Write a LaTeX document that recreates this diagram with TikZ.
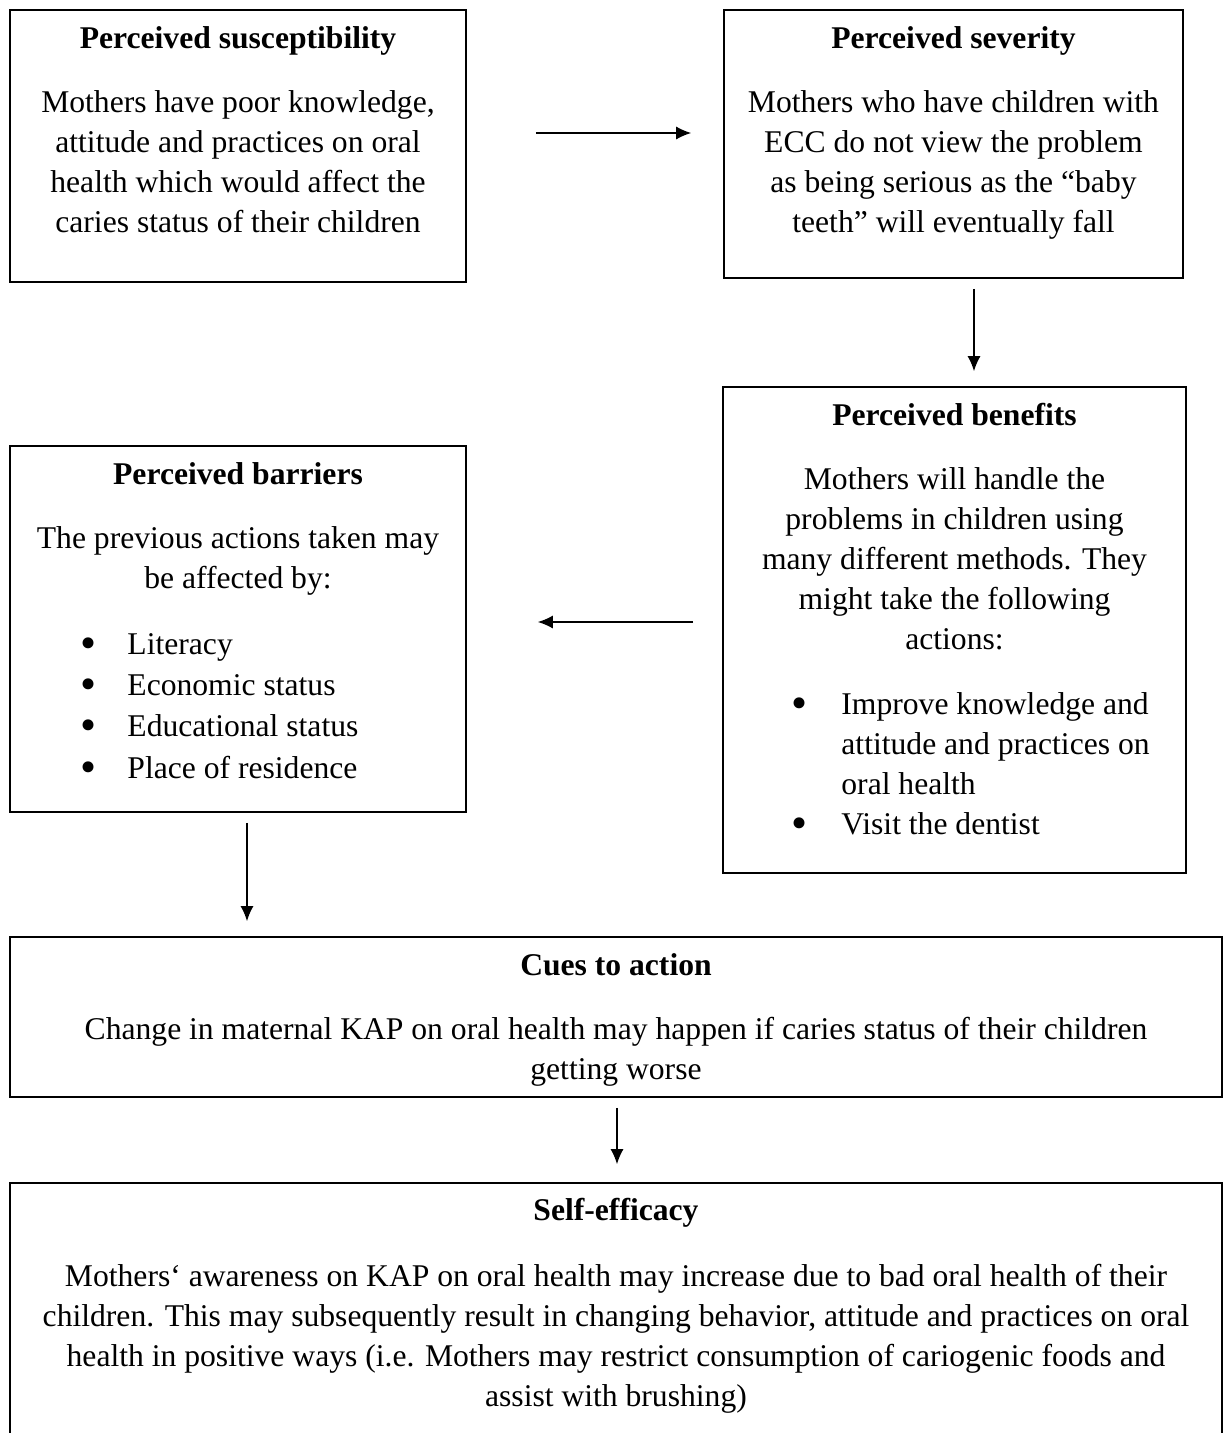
\documentclass[tikz,border=0pt]{standalone}
\usepackage{fontspec}
\setmainfont{Liberation Serif}
\usetikzlibrary{arrows.meta}

\newcommand{\bul}[1]{\makebox[#1][l]{\smash{\raisebox{-2.3pt}{\scalebox{1.45}{\textbullet}}}}}

\begin{document}
\begin{tikzpicture}
  [
    x = 0.02cm, y = -0.02cm,
    >= {Latex[length = 0.3cm, width = 0.26cm]},
    every node/.style = {font = \fontsize{18pt}{22.8pt}\selectfont, inner sep = 0pt},
    box/.style = {draw, line width = 1pt, rectangle},
    txt/.style = {anchor = north, align = center},
    lst/.style = {anchor = north west, align = left}
  ]
    \useasboundingbox (0,0) rectangle (1231,1433);
    % boxes
    \node (sus) [box, minimum width = 9.12cm, minimum height = 5.44cm] at (238,146) {};
    \node (sev) [box, minimum width = 9.18cm, minimum height = 5.36cm] at (953.5,144) {};
    \node (ben) [box, minimum width = 9.26cm, minimum height = 9.72cm] at (954.5,630) {};
    \node (bar) [box, minimum width = 9.12cm, minimum height = 7.32cm] at (238,629) {};
    \node (cue) [box, minimum width = 24.24cm, minimum height = 3.2cm] at (616,1017) {};
    \node (eff) [box, minimum width = 24.24cm, minimum height = 5.6cm] at (616,1323) {};
    % texts
    \node (sust) [txt] at (238,26) {\textbf{Perceived susceptibility}\\[13.7pt]
      Mothers have poor knowledge,\\attitude and practices on oral\\
      health which would affect the\\caries status of their children};
    \node (sevt) [txt] at (953.5,26) {\textbf{Perceived severity}\\[13.7pt]
      Mothers who have children with\\ECC do not view the problem\\
      as being serious as the “baby\\teeth” will eventually fall};
    \node (bent) [txt] at (954.5,403) {\textbf{Perceived benefits}\\[13.7pt]
      Mothers will handle the\\problems in children using\\
      many different methods. They\\might take the following\\actions:};
    \node (benl) [lst] at (791,692) {\bul{28.5pt}Improve knowledge and\\
      \hspace*{28.5pt}attitude and practices on\\\hspace*{28.5pt}oral health\\
      \bul{28.5pt}Visit the dentist};
    \node (bart) [txt] at (238,462) {\textbf{Perceived barriers}\\[13.7pt]
      The previous actions taken may\\be affected by:};
    \node (barl) [lst, font = \fontsize{18pt}{23.5pt}\selectfont] at (80,633) {\bul{26.8pt}Literacy\\
      \bul{26.8pt}Economic status\\\bul{26.8pt}Educational status\\
      \bul{26.8pt}Place of residence};
    \node (cuet) [txt] at (616,953) {\textbf{Cues to action}\\[13.7pt]
      Change in maternal KAP on oral health may happen if caries status of their children\\
      getting worse};
    \node (efft) [txt] at (616,1198) {\textbf{Self-efficacy}\\[14.5pt]
      Mothers` awareness on KAP on oral health may increase due to bad oral health of their\\
      children. This may subsequently result in changing behavior, attitude and practices on oral\\
      health in positive ways (i.e. Mothers may restrict consumption of cariogenic foods and\\
      assist with brushing)};
    % arrows
    \draw [->, thick, shorten <= 1.38cm, shorten >= 0.64cm] ([yshift = 0.26cm]sus.east) -- ([yshift = 0.26cm]sus.east -| sev.west);
    \draw [->, thick, shorten <= 0.2cm, shorten >= 0.3cm] ([xshift = 0.41cm]sev.south) -- ([xshift = 0.41cm]sev.south |- ben.north);
    \draw [->, thick, shorten <= 0.58cm, shorten >= 1.42cm] ([yshift = 0.16cm]ben.west) -- ([yshift = 0.16cm]ben.west -| bar.east);
    \draw [->, thick, shorten <= 0.2cm, shorten >= 0.3cm] ([xshift = 0.18cm]bar.south) -- ([xshift = 0.18cm]bar.south |- cue.north);
    \draw [->, thick, shorten <= 0.2cm, shorten >= 0.36cm] ([xshift = 0.02cm]cue.south) -- ([xshift = 0.02cm]cue.south |- eff.north);
\end{tikzpicture}
\end{document}
